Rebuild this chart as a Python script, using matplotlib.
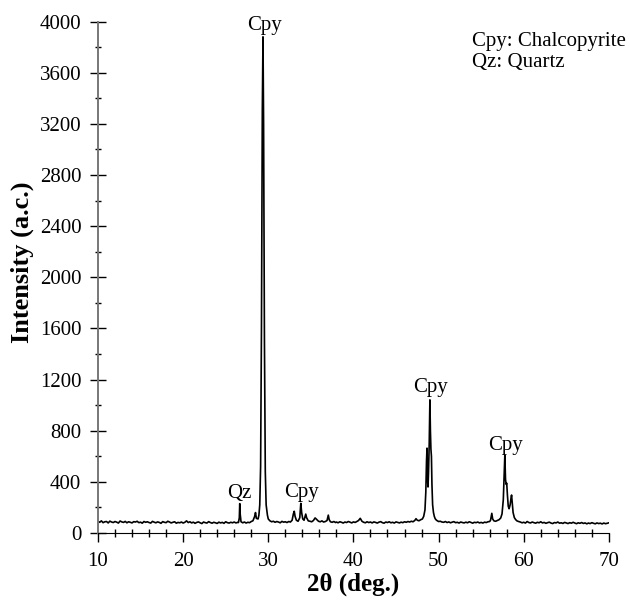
import numpy as np
import matplotlib.pyplot as plt
from matplotlib.ticker import MultipleLocator

plt.rcParams['font.family'] = ['Liberation Serif', 'DejaVu Serif']
plt.rcParams['mathtext.fontset'] = 'stix'

# XRD pattern (2theta in deg, intensity in counts)
# background stretches, scanned at 0.2 deg
bg_a_start = 10.0
bg_a = [92, 84, 95, 81, 88, 90, 79, 93, 86, 82,
        90, 85, 78, 94, 87, 83, 91, 80, 88, 84,
        79, 89, 86, 92, 81, 85, 77, 90, 84, 88,
        82, 78, 91, 85, 80, 87, 83, 76, 89, 84,
        81, 92, 86, 79, 84, 88, 77, 83, 80, 86,
        78, 84, 95, 82, 88, 79, 85, 76, 83, 87,
        80, 74, 86, 81, 78, 89, 82, 77, 84, 80,
        75, 85, 79, 83, 76, 88, 81, 78, 84, 80,
        86, 79, 83]

bg_b_start = 38.2
bg_b = [80, 88, 84, 78, 86, 82, 90, 85, 79, 87,
        83, 90, 98, 115, 92, 84, 80, 88, 82, 86,
        79, 87, 83, 78, 85, 89, 81, 77, 86, 82,
        88, 80, 84, 78, 87, 83, 79, 85, 81, 88,
        84, 90, 86, 92, 88]

bg_c_start = 50.2
bg_c = [92, 86, 84, 90, 82, 87, 80, 85, 89, 81,
        84, 78, 86, 82, 79, 85, 80, 88, 83, 77,
        84, 81, 86, 79, 83, 78, 85, 82, 88, 90]

bg_d_start = 59.6
bg_d = [86, 80, 84, 78, 90, 82, 79, 86, 81, 77,
        84, 80, 88, 79, 83, 76, 81, 85, 78, 74,
        82, 79, 86, 77, 80, 75, 83, 79, 74, 81,
        77, 84, 78, 73, 80, 76, 82, 75, 79, 72,
        78, 74, 81, 76, 72, 79, 74, 77, 71, 78,
        73, 76, 80]

# peak regions
pk1_tt = [26.5, 26.6, 26.65, 26.7, 26.8, 27.0, 27.2, 27.4, 27.6, 27.8,
          28.0, 28.2, 28.4, 28.5, 28.6, 28.8, 28.9, 29.0, 29.1, 29.2,
          29.3, 29.38, 29.45, 29.55, 29.65, 29.75, 29.9, 30.0, 30.2, 30.4,
          30.6, 30.8, 31.0, 31.2, 31.4, 31.6, 31.8, 32.0, 32.2, 32.4,
          32.6, 32.8, 32.95, 33.05, 33.15, 33.3, 33.5, 33.7, 33.82, 33.92,
          34.05, 34.2, 34.4, 34.5, 34.7, 34.9, 35.1, 35.3, 35.5, 35.7,
          35.9, 36.1, 36.3, 36.5, 36.7, 36.9, 37.05, 37.15, 37.3, 37.5,
          37.7, 37.9, 38.0]
pk1_i = [82, 120, 230, 150, 88, 80, 86, 78, 84, 81,
         90, 96, 130, 160, 115, 110, 140, 220, 520, 1600,
         3300, 3880, 3200, 1500, 480, 220, 140, 110, 95, 88,
         92, 84, 90, 86, 80, 91, 85, 88, 82, 90,
         86, 100, 150, 170, 130, 100, 92, 120, 232, 160,
         110, 100, 148, 120, 95, 92, 88, 98, 118, 105,
         92, 88, 95, 86, 90, 98, 140, 105, 88, 84,
         90, 82, 86]

pk2_tt = [47.2, 47.35, 47.5, 47.7, 47.9, 48.1, 48.25, 48.4, 48.5, 48.58,
          48.64, 48.7, 48.76, 48.82, 48.9, 48.98, 49.04, 49.1, 49.16, 49.22,
          49.3, 49.4, 49.5, 49.6, 49.75, 49.9, 50.0]
pk2_i = [98, 112, 100, 96, 104, 110, 130, 180, 320, 560,
         664, 420, 360, 480, 700, 1041, 800, 656, 600, 380,
         220, 160, 130, 112, 100, 94, 90]

pk3_tt = [56.1, 56.25, 56.35, 56.5, 56.7, 56.9, 57.1, 57.3, 57.45, 57.6,
          57.7, 57.78, 57.86, 57.94, 58.0, 58.08, 58.18, 58.28, 58.4, 58.5,
          58.57, 58.65, 58.75, 58.9, 59.05, 59.2, 59.4]
pk3_i = [100, 154, 110, 95, 92, 98, 104, 118, 150, 260,
         450, 610, 420, 380, 390, 300, 210, 190, 220, 270,
         297, 240, 160, 120, 105, 95, 90]

# phase labels
labels = ['Qz', 'Cpy', 'Cpy', 'Cpy', 'Cpy']
label_x = [26.6, 29.5, 33.9, 49.0, 57.85]
label_y = [270, 3935, 285, 1100, 650]


def grid(start, vals):
    return list(np.round(start + 0.2 * np.arange(len(vals)), 2))


two_theta = (grid(bg_a_start, bg_a) + pk1_tt + grid(bg_b_start, bg_b) + pk2_tt
             + grid(bg_c_start, bg_c) + pk3_tt + grid(bg_d_start, bg_d))
counts = bg_a + pk1_i + bg_b + pk2_i + bg_c + pk3_i + bg_d

fig = plt.figure(figsize=(6.3, 6.01), dpi=100)
ax = fig.add_axes([0.1555, 0.1131, 0.811, 0.8511])

ax.plot(two_theta, counts, color='black', lw=1.2)

for t, x, y in zip(labels, label_x, label_y):
    ax.text(x, y, t, ha='center', va='baseline', fontsize=15)

fig.text(0.749, 0.946, 'Cpy: Chalcopyrite\nQz: Quartz', ha='left', va='top',
         fontsize=15, linespacing=1.12)

ax.set_xlim(10, 70)
ax.set_ylim(0, 4000)
ax.xaxis.set_major_locator(MultipleLocator(10))
ax.xaxis.set_minor_locator(MultipleLocator(2))
ax.yaxis.set_major_locator(MultipleLocator(400))
ax.yaxis.set_minor_locator(MultipleLocator(200))

ax.spines['top'].set_visible(False)
ax.spines['right'].set_visible(False)
ax.spines['left'].set_color('#777777')
ax.spines['left'].set_linewidth(1.4)

ax.tick_params(axis='y', which='major', direction='inout', length=12, width=1, labelsize=15, pad=6)
ax.tick_params(axis='y', which='minor', direction='inout', length=5, width=1)
ax.tick_params(axis='x', which='major', direction='out', length=6.5, width=1, labelsize=15, pad=7)
ax.tick_params(axis='x', which='minor', direction='inout', length=5.5, width=1)

ax.set_xlabel('2θ (deg.)', fontsize=18, fontweight='bold', labelpad=1)
ax.set_ylabel('Intensity (a.c.)', fontsize=19, fontweight='bold')
ax.yaxis.set_label_coords(-0.125, 0.53)

fig.savefig('out.png', dpi=100)
